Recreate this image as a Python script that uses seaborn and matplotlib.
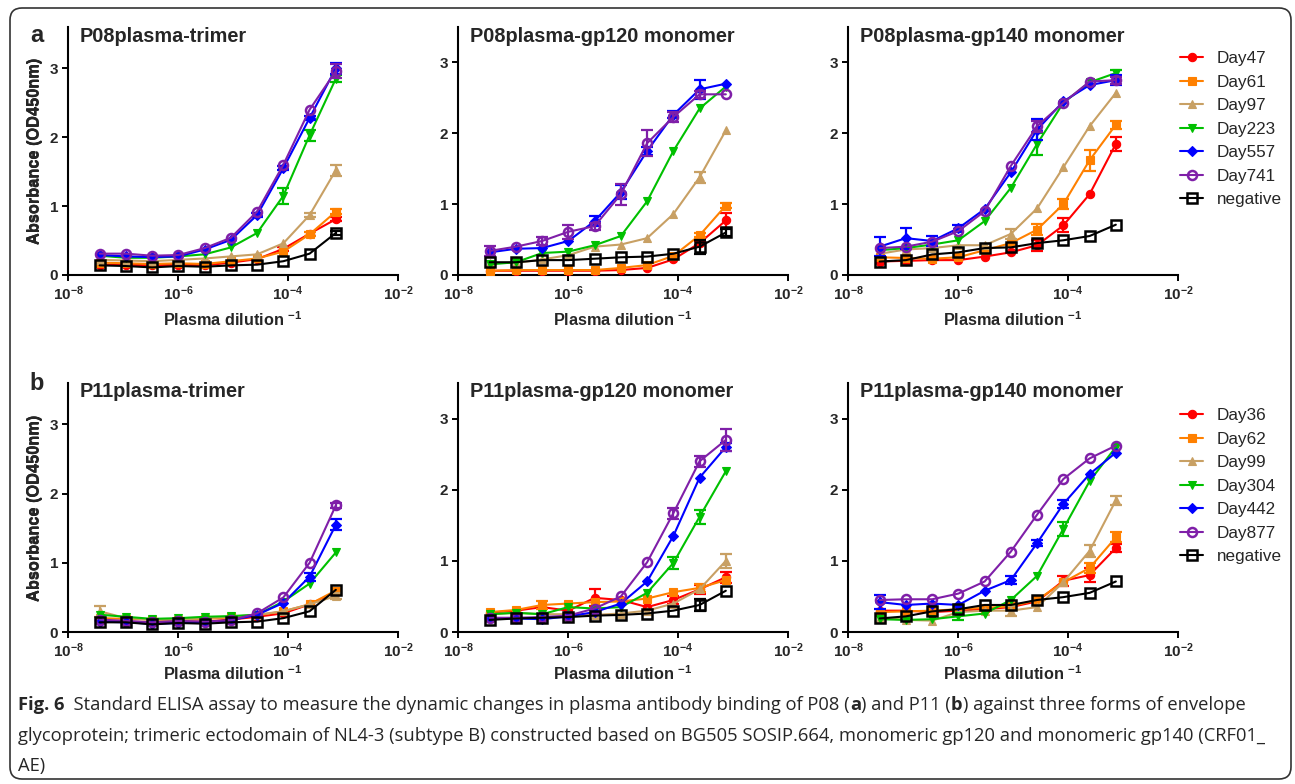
import matplotlib
matplotlib.use("Agg")
import matplotlib.pyplot as plt
from matplotlib.patches import FancyBboxPatch
from matplotlib.transforms import IdentityTransform
from matplotlib.ticker import FixedLocator, NullLocator
import numpy as np
import pandas as pd
import seaborn as sns

# ---------------------------------------------------------------- data
# three-fold serial dilutions of plasma (reciprocal dilution factor)
dilution_fold = [26572050, 8857350, 2952450, 984150, 328050,
                 109350, 36450, 12150, 4050, 1350]

p08_labels = ["Day47", "Day61", "Day97", "Day223", "Day557", "Day741", "negative"]
p11_labels = ["Day36", "Day62", "Day99", "Day304", "Day442", "Day877", "negative"]

# OD450 means, one row per series (same order as the labels)
p08_trimer = [
    [0.15, 0.15, 0.14, 0.15, 0.14, 0.18, 0.23, 0.38, 0.60, 0.81],
    [0.18, 0.17, 0.16, 0.17, 0.16, 0.20, 0.24, 0.34, 0.59, 0.92],
    [0.22, 0.21, 0.20, 0.22, 0.24, 0.27, 0.30, 0.46, 0.87, 1.52],
    [0.28, 0.25, 0.25, 0.27, 0.30, 0.40, 0.61, 1.15, 2.03, 2.85],
    [0.29, 0.27, 0.26, 0.27, 0.37, 0.51, 0.87, 1.55, 2.28, 3.00],
    [0.31, 0.31, 0.28, 0.29, 0.39, 0.54, 0.92, 1.60, 2.40, 2.96],
    [0.14, 0.13, 0.11, 0.13, 0.12, 0.14, 0.15, 0.20, 0.31, 0.61],
]
p08_gp120 = [
    [0.06, 0.06, 0.06, 0.06, 0.06, 0.07, 0.10, 0.22, 0.45, 0.77],
    [0.06, 0.07, 0.07, 0.07, 0.07, 0.10, 0.14, 0.27, 0.56, 0.98],
    [0.17, 0.17, 0.22, 0.28, 0.40, 0.43, 0.52, 0.86, 1.38, 2.04],
    [0.15, 0.18, 0.31, 0.33, 0.42, 0.55, 1.04, 1.75, 2.35, 2.66],
    [0.32, 0.37, 0.38, 0.48, 0.76, 1.17, 1.75, 2.26, 2.62, 2.70],
    [0.34, 0.40, 0.48, 0.61, 0.69, 1.14, 1.86, 2.23, 2.55, 2.55],
    [0.18, 0.18, 0.21, 0.21, 0.23, 0.25, 0.26, 0.30, 0.40, 0.60],
]
p08_gp140 = [
    [0.19, 0.20, 0.21, 0.21, 0.26, 0.32, 0.42, 0.70, 1.14, 1.85],
    [0.25, 0.24, 0.23, 0.25, 0.35, 0.45, 0.64, 1.00, 1.62, 2.12],
    [0.30, 0.36, 0.38, 0.42, 0.42, 0.58, 0.94, 1.52, 2.10, 2.57],
    [0.35, 0.38, 0.43, 0.49, 0.76, 1.23, 1.85, 2.43, 2.72, 2.85],
    [0.40, 0.52, 0.48, 0.66, 0.93, 1.45, 2.05, 2.45, 2.68, 2.75],
    [0.38, 0.40, 0.47, 0.62, 0.90, 1.54, 2.10, 2.43, 2.73, 2.75],
    [0.19, 0.21, 0.29, 0.32, 0.38, 0.39, 0.45, 0.49, 0.55, 0.71],
]
p11_trimer = [
    [0.16, 0.15, 0.14, 0.15, 0.15, 0.18, 0.22, 0.27, 0.40, 0.58],
    [0.20, 0.19, 0.18, 0.17, 0.19, 0.21, 0.24, 0.30, 0.40, 0.60],
    [0.30, 0.20, 0.18, 0.18, 0.20, 0.22, 0.25, 0.30, 0.40, 0.52],
    [0.25, 0.22, 0.19, 0.20, 0.22, 0.23, 0.25, 0.44, 0.70, 1.15],
    [0.15, 0.14, 0.12, 0.13, 0.14, 0.17, 0.25, 0.42, 0.80, 1.55],
    [0.18, 0.16, 0.14, 0.16, 0.15, 0.17, 0.27, 0.50, 1.00, 1.83],
    [0.14, 0.14, 0.11, 0.13, 0.12, 0.14, 0.15, 0.20, 0.30, 0.61],
]
p11_gp120 = [
    [0.27, 0.30, 0.35, 0.30, 0.48, 0.45, 0.35, 0.45, 0.60, 0.77],
    [0.28, 0.31, 0.38, 0.40, 0.42, 0.43, 0.47, 0.56, 0.62, 0.73],
    [0.25, 0.27, 0.25, 0.25, 0.24, 0.26, 0.30, 0.40, 0.60, 1.00],
    [0.25, 0.27, 0.25, 0.35, 0.33, 0.35, 0.55, 0.97, 1.62, 2.26],
    [0.19, 0.19, 0.18, 0.22, 0.28, 0.40, 0.71, 1.35, 2.17, 2.60],
    [0.20, 0.20, 0.21, 0.23, 0.33, 0.50, 0.98, 1.67, 2.40, 2.70],
    [0.17, 0.19, 0.20, 0.21, 0.23, 0.24, 0.26, 0.30, 0.38, 0.58],
]
p11_gp140 = [
    [0.30, 0.30, 0.28, 0.30, 0.32, 0.35, 0.43, 0.72, 0.80, 1.18],
    [0.28, 0.29, 0.30, 0.32, 0.34, 0.36, 0.45, 0.70, 0.90, 1.33],
    [0.20, 0.17, 0.16, 0.28, 0.30, 0.30, 0.35, 0.70, 1.14, 1.85],
    [0.18, 0.17, 0.18, 0.22, 0.26, 0.45, 0.79, 1.45, 2.12, 2.60],
    [0.42, 0.38, 0.40, 0.38, 0.58, 0.73, 1.25, 1.80, 2.22, 2.52],
    [0.45, 0.46, 0.46, 0.54, 0.71, 1.13, 1.65, 2.15, 2.44, 2.62],
    [0.19, 0.22, 0.29, 0.32, 0.38, 0.38, 0.45, 0.49, 0.55, 0.71],
]

# error (SD) of each point; 0 where the bar is hidden behind the marker
p08_trimer_err = [
    [0, 0, 0, 0, 0, 0, 0, 0.03, 0, 0.03],
    [0, 0, 0, 0, 0, 0, 0, 0, 0.03, 0.04],
    [0, 0, 0, 0, 0, 0, 0, 0, 0.03, 0.08],
    [0, 0, 0, 0, 0, 0, 0, 0.12, 0.08, 0.05],
    [0, 0, 0, 0, 0, 0, 0.03, 0.03, 0.03, 0.08],
    [0, 0, 0, 0, 0, 0, 0, 0, 0, 0.10],
    [0, 0, 0, 0, 0, 0, 0, 0, 0, 0.03],
]
p08_gp120_err = [
    [0, 0, 0, 0, 0, 0, 0, 0, 0.03, 0.10],
    [0, 0, 0, 0, 0, 0, 0, 0, 0.03, 0.03],
    [0, 0, 0, 0, 0, 0, 0, 0, 0.08, 0],
    [0, 0, 0, 0, 0, 0, 0, 0, 0, 0],
    [0, 0, 0, 0, 0.07, 0.10, 0.05, 0.05, 0.13, 0],
    [0.07, 0, 0.05, 0.10, 0.05, 0.15, 0.18, 0.07, 0.05, 0],
    [0, 0, 0, 0, 0, 0, 0, 0, 0.10, 0.05],
]
p08_gp140_err = [
    [0, 0, 0, 0, 0, 0, 0.08, 0.10, 0, 0.10],
    [0, 0, 0, 0, 0, 0, 0.08, 0.07, 0.15, 0.06],
    [0, 0, 0, 0, 0, 0.07, 0, 0, 0, 0],
    [0, 0, 0, 0, 0, 0, 0.15, 0, 0, 0.04],
    [0.13, 0.15, 0.07, 0.05, 0, 0, 0.15, 0, 0, 0.07],
    [0, 0, 0, 0, 0, 0, 0.08, 0, 0, 0.05],
    [0, 0, 0, 0, 0, 0, 0, 0, 0, 0],
]
p11_trimer_err = [
    [0, 0, 0, 0, 0, 0, 0, 0, 0, 0],
    [0, 0, 0, 0, 0, 0, 0, 0, 0, 0],
    [0.08, 0, 0, 0, 0, 0, 0, 0, 0, 0.04],
    [0, 0, 0, 0, 0, 0, 0, 0, 0, 0],
    [0, 0, 0, 0, 0, 0, 0, 0, 0.06, 0.08],
    [0, 0, 0, 0, 0, 0, 0, 0, 0, 0.04],
    [0, 0, 0, 0, 0, 0, 0, 0, 0, 0],
]
p11_gp120_err = [
    [0, 0, 0, 0, 0.12, 0, 0, 0.06, 0.06, 0.08],
    [0, 0, 0.05, 0, 0, 0, 0, 0, 0.06, 0],
    [0, 0, 0, 0, 0, 0, 0, 0, 0, 0.10],
    [0, 0, 0, 0, 0, 0, 0, 0.08, 0.10, 0],
    [0, 0, 0, 0, 0, 0, 0, 0, 0, 0.05],
    [0, 0, 0, 0, 0, 0, 0, 0.08, 0.08, 0.15],
    [0, 0, 0, 0, 0, 0, 0, 0, 0.08, 0],
]
p11_gp140_err = [
    [0, 0, 0, 0, 0, 0, 0, 0.07, 0.10, 0.06],
    [0, 0, 0, 0, 0, 0, 0, 0, 0.07, 0.07],
    [0, 0, 0, 0, 0, 0.07, 0, 0, 0.08, 0.06],
    [0, 0, 0, 0.05, 0, 0, 0, 0.10, 0, 0],
    [0.10, 0, 0, 0, 0, 0.06, 0.04, 0.06, 0, 0],
    [0, 0, 0, 0, 0, 0, 0, 0, 0, 0],
    [0, 0, 0, 0, 0, 0, 0, 0, 0, 0],
]

panel_titles = [
    "P08plasma-trimer", "P08plasma-gp120 monomer", "P08plasma-gp140 monomer",
    "P11plasma-trimer", "P11plasma-gp120 monomer", "P11plasma-gp140 monomer",
]
panel_means = [p08_trimer, p08_gp120, p08_gp140, p11_trimer, p11_gp120, p11_gp140]
panel_errs = [p08_trimer_err, p08_gp120_err, p08_gp140_err,
              p11_trimer_err, p11_gp120_err, p11_gp140_err]
panel_ytop = [3.6, 3.5, 3.5, 3.6, 3.5, 3.5]

x_ticks = [1e-8, 1e-6, 1e-4, 1e-2]
x_tick_labels = [r"10$^{-8}$", r"10$^{-6}$", r"10$^{-4}$", r"10$^{-2}$"]
y_ticks = [0, 1, 2, 3]

caption_rest_1 = ("  Standard ELISA assay to measure the dynamic changes in plasma antibody "
                  "binding of P08 (")
caption_lines = [
    "glycoprotein; trimeric ectodomain of NL4-3 (subtype B) constructed based on BG505 "
    "SOSIP.664, monomeric gp120 and monomeric gp140 (CRF01_",
    "AE)",
]

# ---------------------------------------------------------------- style
series_style = [
    dict(color="#FF0000", marker="o", mfc="#FF0000"),
    dict(color="#FF8000", marker="s", mfc="#FF8000"),
    dict(color="#C8A064", marker="^", mfc="#C8A064"),
    dict(color="#00C000", marker="v", mfc="#00C000"),
    dict(color="#0000FF", marker="D", mfc="#0000FF"),
    dict(color="#7F1FA8", marker="o", mfc="none"),
    dict(color="#000000", marker="s", mfc="none"),
]

sns.set_theme(style="ticks")
plt.rcParams["font.family"] = ["Liberation Sans", "DejaVu Sans"]
plt.rcParams["mathtext.fontset"] = "custom"
plt.rcParams["mathtext.rm"] = "Liberation Sans:bold"
plt.rcParams["mathtext.it"] = "Liberation Sans:bold"
plt.rcParams["mathtext.bf"] = "Liberation Sans:bold"

W, H = 1295, 784
fig = plt.figure(figsize=(W / 100, H / 100), dpi=100)

x_vals = 1.0 / np.array(dilution_fold, dtype=float)

col_left = [68, 458, 848]
row_top = [27, 383]
row_bottom = [275, 632]
ax_w = 330


def px_axes(left, top, bottom):
    return [left / W, 1 - bottom / H, ax_w / W, (bottom - top) / H]


axes = []
for r in range(2):
    for c in range(3):
        ax = fig.add_axes(px_axes(col_left[c], row_top[r], row_bottom[r]))
        axes.append(ax)

for i, ax in enumerate(axes):
    labels = p08_labels if i < 3 else p11_labels
    means = panel_means[i]
    errs = panel_errs[i]
    for s, (lab, st) in enumerate(zip(labels, series_style)):
        df = pd.DataFrame({"dilution": x_vals, "od": means[s]})
        open_marker = st["mfc"] == "none"
        sns.lineplot(
            data=df, x="dilution", y="od", ax=ax, label=lab,
            color=st["color"], marker=st["marker"],
            markersize=6.5 if open_marker else (5.0 if st["marker"] == "D" else 6.0),
            markerfacecolor=st["mfc"], markeredgecolor=st["color"],
            markeredgewidth=1.8 if open_marker else 0.8,
            linewidth=1.5, zorder=3 + s,
        )
        e = np.array(errs[s], dtype=float)
        m = e > 0
        if m.any():
            ax.errorbar(x_vals[m], np.array(means[s])[m], yerr=e[m], fmt="none",
                        ecolor=st["color"], elinewidth=1.6, capsize=4.0,
                        capthick=1.6, zorder=3 + s)

    ax.set_xscale("log")
    ax.set_xlim(1e-8, 1e-2)
    ax.set_ylim(0, panel_ytop[i])
    ax.xaxis.set_major_locator(FixedLocator(x_ticks))
    ax.xaxis.set_minor_locator(NullLocator())
    ax.set_xticklabels(x_tick_labels)
    ax.set_yticks(y_ticks)
    ax.set_yticklabels([str(t) for t in y_ticks])
    for lbl in ax.get_xticklabels() + ax.get_yticklabels():
        lbl.set_fontweight("bold")
        lbl.set_fontsize(11)
    ax.tick_params(axis="both", direction="out", length=4.5, width=1.4,
                   color="black", pad=2.5)
    for side in ("top", "right"):
        ax.spines[side].set_visible(False)
    for side in ("left", "bottom"):
        ax.spines[side].set_linewidth(1.5)
        ax.spines[side].set_color("black")
    ax.grid(False)
    ax.set_facecolor("white")

    ax.set_ylabel("Absorbance (OD450nm)", fontsize=11.8, fontweight="bold")
    ax.set_xlabel(r"Plasma dilution $^{-1}$", fontsize=11.7, fontweight="bold")
    top_px, bot_px = row_top[i // 3], row_bottom[i // 3]
    hpx = bot_px - top_px
    ax.yaxis.set_label_coords((35 - col_left[i % 3]) / ax_w, 0.5)
    ax.yaxis.label.set_va("center")
    xlab_px = 320 if i < 3 else 674
    ax.xaxis.set_label_coords(0.5, (bot_px - xlab_px) / hpx)
    ax.xaxis.label.set_va("center")

    title_px = 36 if i < 3 else 392
    ax.text(12 / ax_w, (bot_px - title_px) / hpx, panel_titles[i],
            transform=ax.transAxes, fontsize=14.3, fontweight="bold",
            ha="left", va="center", clip_on=False)

    if i % 3 == 2:
        leg_top = 51 if i < 3 else 408
        ax.legend(loc="upper left", bbox_to_anchor=(1180 / W, 1 - leg_top / H),
                  bbox_transform=fig.transFigure, frameon=False, fontsize=12.3,
                  handlelength=1.35, handletextpad=0.8, labelspacing=0.5,
                  borderpad=0, borderaxespad=0)
    else:
        ax.get_legend().remove()

# panel letters
fig.text(37 / W, 1 - 35 / H, "a", fontsize=17, fontweight="bold",
         ha="center", va="center")
fig.text(37 / W, 1 - 384 / H, "b", fontsize=17, fontweight="bold",
         ha="center", va="center")

# figure caption
cap_font = ["Open Sans", "DejaVu Sans"]
cap_size = 13.2
cap_x = 18
cap_y = [705, 736, 766]
renderer = fig.canvas.get_renderer()


def run_text(x_px, y_px, s, weight="normal"):
    t = fig.text(x_px / W, 1 - y_px / H, s, fontsize=cap_size, family=cap_font,
                 fontweight=weight, ha="left", va="center")
    bb = t.get_window_extent(renderer=renderer)
    return x_px + bb.width


x_run = run_text(cap_x, cap_y[0], "Fig. 6", weight="bold")
x_run = run_text(x_run, cap_y[0], caption_rest_1)
x_run = run_text(x_run, cap_y[0], "a", weight="bold")
x_run = run_text(x_run, cap_y[0], ") and P11 (")
x_run = run_text(x_run, cap_y[0], "b", weight="bold")
x_run = run_text(x_run, cap_y[0], ") against three forms of envelope")
for line, yy in zip(caption_lines, cap_y[1:]):
    run_text(cap_x, yy, line)

# rounded frame around the whole figure
frame = FancyBboxPatch((10, H - 779), 1281, 771,
                       boxstyle="round,pad=0,rounding_size=12",
                       transform=IdentityTransform(), fill=False,
                       edgecolor="#333333", linewidth=1.2)
fig.patches.append(frame)

fig.savefig("out.png", dpi=100, facecolor="white")
